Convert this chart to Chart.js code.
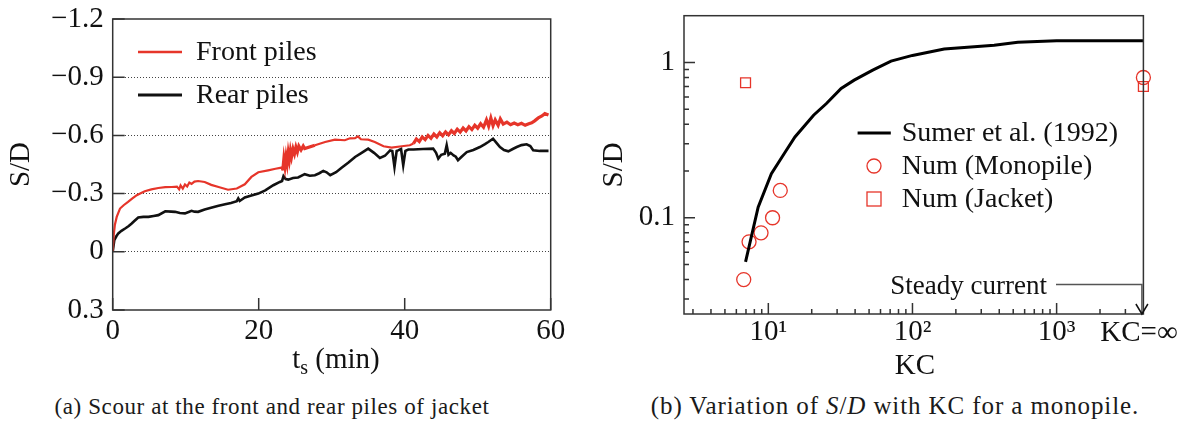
<!DOCTYPE html>
<html>
<head>
<meta charset="utf-8">
<script src="https://cdn.jsdelivr.net/npm/chart.js@4.4.1/dist/chart.umd.min.js"></script>
<style>
  body { margin: 0; background: #fff; width: 1177px; height: 423px; overflow: hidden; position: relative; }
  .box { position: absolute; top: 0; }
  .cap { position: absolute; top: 394px; font-family: "Liberation Serif", serif; font-size: 23px; letter-spacing: 0.6px; color: #1a1a1a; white-space: nowrap; transform: translateX(-50%); }
</style>
</head>
<body>
<div class="box" style="left:0px"><canvas id="scour" width="580" height="380"></canvas></div>
<div class="box" style="left:600px"><canvas id="kc" width="577" height="380"></canvas></div>
<div class="cap" style="left:272px">(a) Scour at the front and rear piles of jacket</div>
<div class="cap" style="left:895px; top:392px; font-size:25px; letter-spacing:0.9px">(b) Variation of <i>S</i>/<i>D</i> with KC for a monopile.</div>
<script>
// ---- (a) scour time series, [t (min), S/D] ----
const frontPiles = [
  [0, 0], [0.15, -0.09], [0.3, -0.14], [0.55, -0.18], [1.0, -0.223], [1.5, -0.24], [2.1, -0.257],
  [2.7, -0.275], [3.3, -0.292], [3.9, -0.303], [4.4, -0.312], [5.3, -0.322], [6.25, -0.329],
  [7.2, -0.333], [8.1, -0.334], [8.8, -0.336], [9.1, -0.322], [9.3, -0.342], [9.6, -0.326],
  [9.9, -0.347], [10.2, -0.337], [10.5, -0.357], [10.8, -0.35], [11.2, -0.362], [11.7, -0.365],
  [12.6, -0.36], [13.5, -0.345], [14.5, -0.334], [15.8, -0.32], [17, -0.326], [18.1, -0.348],
  [19.0, -0.386], [19.95, -0.41], [21.3, -0.42], [22.3, -0.428], [23.15, -0.434], [23.3, -0.42],
  [23.45, -0.48], [23.6, -0.44], [23.75, -0.49], [23.9, -0.455], [24.05, -0.51], [24.2, -0.475],
  [24.35, -0.52], [24.5, -0.49], [24.7, -0.53], [24.9, -0.505], [25.1, -0.54], [25.3, -0.515],
  [25.5, -0.545], [25.8, -0.525], [26.1, -0.545], [26.3, -0.532], [27.7, -0.549], [29.1, -0.566],
  [30.45, -0.578], [31.8, -0.575], [32.5, -0.585], [33.2, -0.586], [33.6, -0.595], [34, -0.58],
  [35, -0.578], [35.9, -0.566], [37.1, -0.544], [38.2, -0.537], [39.6, -0.544], [40.7, -0.549],
  [41.2, -0.558], [41.6, -0.582], [42.0, -0.568], [42.4, -0.592], [42.8, -0.578], [43.2, -0.6],
  [43.6, -0.585], [44.0, -0.607], [44.4, -0.592], [44.8, -0.614], [45.2, -0.598], [45.6, -0.618],
  [46.0, -0.603], [46.4, -0.624], [46.8, -0.61], [47.2, -0.632], [47.6, -0.617], [48.0, -0.638],
  [48.4, -0.623], [48.8, -0.645], [49.2, -0.63], [49.6, -0.652], [50.0, -0.637], [50.4, -0.66],
  [50.8, -0.642], [51.2, -0.68], [51.5, -0.648], [51.8, -0.69], [52.1, -0.65], [52.4, -0.68],
  [52.8, -0.652], [53.1, -0.685], [53.5, -0.658], [54.0, -0.668], [54.5, -0.655], [55.0, -0.664],
  [55.5, -0.655], [56.0, -0.662], [56.5, -0.652], [57.0, -0.66], [57.4, -0.665], [57.8, -0.675],
  [58.3, -0.69], [58.8, -0.70], [59.2, -0.712], [59.7, -0.705]
];
const rearPiles = [
  [0, 0], [0.22, -0.06], [0.5, -0.08], [0.77, -0.095], [1.2, -0.108], [1.7, -0.12], [2.2, -0.133],
  [2.6, -0.146], [3.0, -0.16], [3.5, -0.177], [4.2, -0.18], [4.9, -0.18], [5.6, -0.185],
  [6.25, -0.189], [7.2, -0.209], [8.0, -0.207], [8.55, -0.206], [9.2, -0.2], [9.9, -0.198],
  [10.4, -0.205], [10.8, -0.211], [11.2, -0.207], [11.7, -0.206], [12.6, -0.218], [13.6, -0.228],
  [14.5, -0.237], [15.4, -0.245], [16.2, -0.252], [17.0, -0.261], [17.2, -0.275], [17.4, -0.262],
  [18.1, -0.28], [19.0, -0.29], [19.95, -0.3], [20.9, -0.317], [22.0, -0.343], [22.9, -0.36],
  [23.2, -0.365], [23.4, -0.39], [23.7, -0.375], [24.05, -0.372], [24.7, -0.38], [25.4, -0.383],
  [26.3, -0.4], [27.0, -0.392], [27.7, -0.395], [28.3, -0.405], [28.85, -0.417], [29.3, -0.41],
  [29.8, -0.395], [30.6, -0.41], [31.4, -0.434], [32.3, -0.46], [33.2, -0.489], [34.1, -0.51],
  [35.0, -0.532], [35.8, -0.51], [36.6, -0.484], [37.3, -0.495], [38.0, -0.523], [38.3, -0.52],
  [38.6, -0.437], [38.9, -0.52], [39.1, -0.523], [39.5, -0.53], [39.8, -0.446], [40.1, -0.52],
  [40.5, -0.527], [41.2, -0.527], [42.5, -0.53], [43.9, -0.532], [44.3, -0.51], [44.6, -0.48],
  [45.0, -0.5], [45.5, -0.506], [45.75, -0.549], [46.0, -0.5], [46.3, -0.51], [46.7, -0.497],
  [47.0, -0.49], [47.3, -0.472], [47.8, -0.49], [48.5, -0.514], [49.4, -0.525], [50.3, -0.54],
  [51.0, -0.555], [51.45, -0.566], [52.1, -0.583], [52.6, -0.56], [53.05, -0.54], [53.6, -0.525],
  [54.2, -0.518], [54.8, -0.53], [55.35, -0.54], [56.0, -0.55], [56.7, -0.554], [57.2, -0.545],
  [57.6, -0.523], [58.5, -0.52], [59.7, -0.52]
];
// stretches where the front-pile record is a noisy band
const frontNoisy = [[23.2, 26.4], [40.8, 60]];
const timeTicks = [0, 20, 40, 60];
const sdTicks = [-1.2, -0.9, -0.6, -0.3, 0, 0.3];

// ---- (b) S/D versus KC ----
const KC_INF = 4000; // steady current, drawn at the right edge
const sumerKC = [6.95, 8.5, 10.5, 12.9, 15.3, 20.6, 25.3, 32, 39.4, 53, 71, 100, 166, 369, 538, 1000, KC_INF];
const sumerSD = [0.052, 0.117, 0.192, 0.259, 0.331, 0.457, 0.544, 0.68, 0.769, 0.892, 1.02, 1.11, 1.22, 1.29, 1.35, 1.38, 1.38];
const monoKC = [6.75, 7.35, 8.9, 10.7, 12.1, KC_INF];
const monoSD = [0.04, 0.07, 0.08, 0.1, 0.15, 0.8];
const jacketKC = [6.95, KC_INF];
const jacketSD = [0.74, 0.70];
const kcMajor = [10, 100, 1000];
const kcLabels = ['10¹', '10²', '10³'];
const kcMinor = [3, 4, 5, 6, 7, 8, 9, 20, 30, 40, 50, 60, 70, 80, 90, 200, 300, 400, 500, 600, 700, 800, 900, 2000, 3000];
const sdMajor = [0.1, 1];
const sdLabels = ['0.1', '1'];
const sdMinor = [0.03, 0.04, 0.05, 0.06, 0.07, 0.08, 0.09, 0.2, 0.3, 0.4, 0.5, 0.6, 0.7, 0.8, 0.9];

const RED = '#e6352a';
const SERIF = '"Liberation Serif", "Times New Roman", serif';
const tickFont = { family: SERIF, size: 29, lineHeight: 1 };

// keep the plot box where the layout padding puts it
function fitY(width) {
  return s => { s.width = width; s.paddingTop = 0; s.paddingBottom = 0; };
}
function fitX(height) {
  return s => { s.height = height; s.paddingLeft = 0; s.paddingRight = 0; };
}

function drawFrame(chart, tickLen) {
  const ctx = chart.ctx, a = chart.chartArea;
  ctx.save();
  ctx.strokeStyle = '#333';
  ctx.lineWidth = 1.5;
  ctx.strokeRect(a.left, a.top, a.right - a.left, a.bottom - a.top);
  ctx.beginPath();
  chart.scales.x.ticks.forEach(t => {
    const px = chart.scales.x.getPixelForValue(t.value);
    ctx.moveTo(px, a.bottom);
    ctx.lineTo(px, a.bottom - tickLen(t.value, 'x'));
  });
  chart.scales.y.ticks.forEach(t => {
    const py = chart.scales.y.getPixelForValue(t.value);
    ctx.moveTo(a.left, py);
    ctx.lineTo(a.left + tickLen(t.value, 'y'), py);
  });
  ctx.stroke();
  ctx.restore();
}

function legendRow(ctx, x0, x1, y, textX, label, drawSample) {
  drawSample(ctx, x0, x1, y);
  ctx.fillStyle = '#111';
  ctx.font = '28px ' + SERIF;
  ctx.textBaseline = 'middle';
  ctx.textAlign = 'left';
  ctx.fillText(label, textX, y + 1);
}

function lineSample(color, width) {
  return function (ctx, x0, x1, y) {
    ctx.save();
    ctx.strokeStyle = color;
    ctx.lineWidth = width;
    ctx.beginPath();
    ctx.moveTo(x0, y);
    ctx.lineTo(x1, y);
    ctx.stroke();
    ctx.restore();
  };
}

// ---------- chart (a) ----------
const scourExtras = {
  id: 'scourExtras',
  afterDraw(chart) {
    const ctx = chart.ctx;
    drawFrame(chart, () => 12);
    legendRow(ctx, 138, 182, 52, 196, 'Front piles', lineSample(RED, 2.5));
    legendRow(ctx, 138, 182, 95, 196, 'Rear piles', lineSample('#111', 3));
    // x title: t_s (min)
    ctx.save();
    ctx.fillStyle = '#111';
    ctx.textBaseline = 'alphabetic';
    ctx.textAlign = 'left';
    const big = '29px ' + SERIF, small = '20px ' + SERIF;
    ctx.font = big; const wT = ctx.measureText('t').width; const wRest = ctx.measureText(' (min)').width;
    ctx.font = small; const wS = ctx.measureText('s').width;
    let x = 336 - (wT + wS + wRest) / 2;
    const base = 368;
    ctx.font = big; ctx.fillText('t', x, base); x += wT;
    ctx.font = small; ctx.fillText('s', x, base + 6); x += wS;
    ctx.font = big; ctx.fillText(' (min)', x, base);
    ctx.restore();
  }
};

const inNoisy = t => frontNoisy.some(r => t >= r[0] && t <= r[1]);

new Chart(document.getElementById('scour'), {
  type: 'line',
  data: {
    datasets: [
      {
        label: 'Front piles',
        data: frontPiles.map(p => ({ x: p[0], y: p[1] })),
        borderColor: RED,
        borderWidth: 2.2,
        pointRadius: 0,
        tension: 0,
        segment: { borderWidth: c => (inNoisy(c.p0.parsed.x) ? 3.2 : 2.2) },
      },
      {
        label: 'Rear piles',
        data: rearPiles.map(p => ({ x: p[0], y: p[1] })),
        borderColor: '#111',
        borderWidth: 2.6,
        pointRadius: 0,
        tension: 0,
      },
    ],
  },
  options: {
    responsive: false,
    animation: false,
    devicePixelRatio: 1,
    layout: { padding: { left: 0, right: 29.3, top: 19, bottom: 0 } },
    plugins: { legend: { display: false }, tooltip: { enabled: false } },
    scales: {
      x: {
        type: 'linear',
        min: 0,
        max: 60,
        afterBuildTicks: s => { s.ticks = timeTicks.map(v => ({ value: v })); },
        afterFit: fitX(70),
        ticks: { autoSkip: false, maxRotation: 0, color: '#111', font: tickFont, padding: 7 },
        grid: { display: false, drawTicks: false },
        border: { display: false },
      },
      y: {
        type: 'linear',
        reverse: true,
        min: -1.2,
        max: 0.3,
        afterBuildTicks: s => { s.ticks = sdTicks.map(v => ({ value: v })); },
        afterFit: fitY(112.7),
        ticks: {
          autoSkip: false,
          color: '#111',
          font: tickFont,
          padding: 9,
          callback: v => (v === 0 ? '0' : (v < 0 ? '\u2212' : '') + Math.abs(v).toFixed(1)),
        },
        grid: {
          drawTicks: false,
          lineWidth: 1,
          color: c => (c.tick && (c.tick.value === -1.2 || c.tick.value === 0.3) ? 'rgba(0,0,0,0)' : '#444'),
        },
        border: { display: false, dash: [1, 2] },
        title: { display: true, text: 'S/D', color: '#111', font: { family: SERIF, size: 29, lineHeight: 1 }, padding: { top: 7, bottom: 0 } },
      },
    },
  },
  plugins: [scourExtras],
});

// ---------- chart (b) ----------
const kcExtras = {
  id: 'kcExtras',
  afterDraw(chart) {
    const ctx = chart.ctx;
    drawFrame(chart, (v, axis) => ((axis === 'x' ? kcMajor : sdMajor).includes(v) ? 11 : 5));
    // legend
    legendRow(ctx, 257.6, 290.8, 133, 301.8, 'Sumer et al. (1992)', lineSample('#000', 3));
    legendRow(ctx, 274, 274, 166, 301.8, 'Num (Monopile)', (c, x0, x1, y) => {
      c.save(); c.strokeStyle = RED; c.lineWidth = 1.3; c.beginPath(); c.arc(x0, y, 7, 0, Math.PI * 2); c.stroke(); c.restore();
    });
    legendRow(ctx, 274, 274, 199, 301.8, 'Num (Jacket)', (c, x0, x1, y) => {
      c.save(); c.strokeStyle = RED; c.lineWidth = 1.3; c.strokeRect(x0 - 7, y - 7, 14, 14); c.restore();
    });
    const xs = chart.scales.x, a = chart.chartArea;
    const xi = xs.getPixelForValue(KC_INF) - 1.5;
    // steady current annotation
    ctx.save();
    ctx.fillStyle = '#111';
    ctx.font = '27px ' + SERIF;
    ctx.textAlign = 'right';
    ctx.textBaseline = 'middle';
    ctx.fillText('Steady current', 447, 287);
    ctx.strokeStyle = '#555';
    ctx.lineWidth = 1.5;
    ctx.beginPath();
    ctx.moveTo(456, 284.5);
    ctx.lineTo(xi, 284.5);
    ctx.lineTo(xi, a.bottom);
    ctx.stroke();
    ctx.strokeStyle = '#111';
    ctx.beginPath();
    ctx.moveTo(xi - 6, a.bottom - 10);
    ctx.lineTo(xi, a.bottom);
    ctx.lineTo(xi + 6, a.bottom - 10);
    ctx.stroke();
    // KC = infinity label and axis title
    ctx.textAlign = 'center';
    ctx.font = '29px ' + SERIF;
    ctx.fillText('KC=\u221e', xi - 3, 333);
    ctx.fillText('KC', 315, 366);
    ctx.restore();
  }
};

new Chart(document.getElementById('kc'), {
  type: 'scatter',
  data: {
    datasets: [
      {
        type: 'line',
        label: 'Sumer et al. (1992)',
        data: sumerKC.map((k, i) => ({ x: k, y: sumerSD[i] })),
        borderColor: '#000',
        borderWidth: 3,
        pointRadius: 0,
        tension: 0,
      },
      {
        label: 'Num (Monopile)',
        data: monoKC.map((k, i) => ({ x: k, y: monoSD[i] })),
        pointStyle: 'circle',
        pointRadius: 7,
        borderColor: RED,
        backgroundColor: 'rgba(0,0,0,0)',
        borderWidth: 1.3,
        clip: false,
      },
      {
        label: 'Num (Jacket)',
        data: jacketKC.map((k, i) => ({ x: k, y: jacketSD[i] })),
        pointStyle: 'rect',
        pointRadius: 7,
        borderColor: RED,
        backgroundColor: 'rgba(0,0,0,0)',
        borderWidth: 1.3,
        clip: false,
      },
    ],
  },
  options: {
    responsive: false,
    animation: false,
    devicePixelRatio: 1,
    layout: { padding: { left: 0, right: 33.6, top: 15.7, bottom: 0 } },
    plugins: { legend: { display: false }, tooltip: { enabled: false } },
    scales: {
      x: {
        type: 'logarithmic',
        min: 2.6,
        max: KC_INF,
        afterBuildTicks: s => { s.ticks = kcMinor.concat(kcMajor).sort((a, b) => a - b).map(v => ({ value: v })); },
        afterFit: fitX(66),
        ticks: {
          autoSkip: false,
          maxRotation: 0,
          color: '#111',
          font: tickFont,
          padding: 4,
          callback: v => (kcMajor.indexOf(v) >= 0 ? kcLabels[kcMajor.indexOf(v)] : ''),
        },
        grid: { display: false, drawTicks: false },
        border: { display: false },
      },
      y: {
        type: 'logarithmic',
        min: 0.024,
        max: 2.0,
        afterBuildTicks: s => { s.ticks = sdMinor.concat(sdMajor).sort((a, b) => a - b).map(v => ({ value: v })); },
        afterFit: fitY(84),
        ticks: {
          autoSkip: false,
          color: '#111',
          font: tickFont,
          padding: 9,
          callback: v => (sdMajor.indexOf(v) >= 0 ? sdLabels[sdMajor.indexOf(v)] : ''),
        },
        grid: { display: false, drawTicks: false },
        border: { display: false },
        title: { display: true, text: 'S/D', color: '#111', font: { family: SERIF, size: 29, lineHeight: 1 }, padding: { top: 0, bottom: 0 } },
      },
    },
  },
  plugins: [kcExtras],
});
</script>
</body>
</html>
